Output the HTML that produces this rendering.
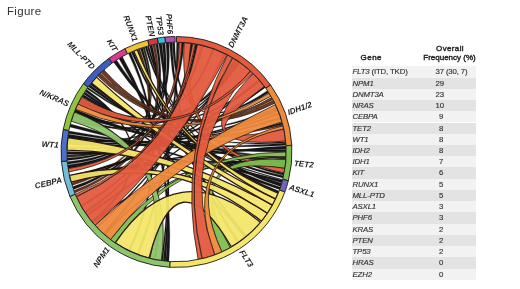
<!DOCTYPE html>
<html><head><meta charset="utf-8"><style>
html,body{margin:0;padding:0;background:#fff;width:520px;height:289px;overflow:hidden;position:relative;font-family:"Liberation Sans",sans-serif}
.fig{position:absolute;left:7px;top:3.6px;font-size:11.5px;letter-spacing:0.3px;color:#333;line-height:14px}
.row{position:absolute;left:351.5px;width:124.3px;height:11.22px;font-size:7.8px;color:#333;line-height:11.22px;letter-spacing:-0.15px;white-space:nowrap;-webkit-text-stroke:0.15px #333}
.row .g{position:absolute;left:1px}
.row .v{position:absolute;left:84px}
.h{position:absolute;font-size:8px;color:#222;text-align:center;white-space:nowrap;-webkit-text-stroke:0.4px #222}
.lb{font-family:"Liberation Sans",sans-serif;font-size:8.1px;font-weight:bold;font-style:italic;fill:#222}
#wrap{position:absolute;left:0;top:0;width:520px;height:289px;filter:blur(0.45px)}
</style></head><body><div id="wrap">
<div class="fig">Figure</div>
<svg width="520" height="289" viewBox="0 0 520 289" style="position:absolute;left:0;top:0">
<path d="M88.51 86.65 A109.60 109.60 0 0 1 89.90 84.83 Q176.50 152.00 283.50 175.72 A109.60 109.60 0 0 1 282.98 177.96 Q176.50 152.00 88.51 86.65Z" fill="#161616" stroke="#111" stroke-width="0.3"/>
<path d="M90.13 84.52 A109.60 109.60 0 0 1 91.32 83.03 Q176.50 152.00 280.25 187.32 A109.60 109.60 0 0 1 279.62 189.13 Q176.50 152.00 90.13 84.52Z" fill="#161616" stroke="#111" stroke-width="0.3"/>
<path d="M113.64 62.22 A109.60 109.60 0 0 1 116.65 60.19 Q176.50 152.00 281.53 183.31 A109.60 109.60 0 0 1 280.50 186.60 Q176.50 152.00 113.64 62.22Z" fill="#161616" stroke="#111" stroke-width="0.3"/>
<path d="M119.07 58.65 A109.60 109.60 0 0 1 122.36 56.70 Q176.50 152.00 168.85 261.33 A109.60 109.60 0 0 1 165.80 261.08 Q176.50 152.00 119.07 58.65Z" fill="#161616" stroke="#111" stroke-width="0.3"/>
<path d="M128.45 53.49 A109.60 109.60 0 0 1 130.70 52.43 Q176.50 152.00 130.18 251.33 A109.60 109.60 0 0 1 128.11 250.34 Q176.50 152.00 128.45 53.49Z" fill="#161616" stroke="#111" stroke-width="0.3"/>
<path d="M131.22 52.19 A109.60 109.60 0 0 1 133.15 51.34 Q176.50 152.00 246.95 235.96 A109.60 109.60 0 0 1 245.18 237.42 Q176.50 152.00 131.22 52.19Z" fill="#161616" stroke="#111" stroke-width="0.3"/>
<path d="M137.76 49.48 A109.60 109.60 0 0 1 139.91 48.69 Q176.50 152.00 72.15 185.50 A109.60 109.60 0 0 1 71.36 182.94 Q176.50 152.00 137.76 49.48Z" fill="#6a3018" stroke="#111" stroke-width="0.3"/>
<path d="M140.46 48.50 A109.60 109.60 0 0 1 142.45 47.82 Q176.50 152.00 67.22 160.41 A109.60 109.60 0 0 1 67.07 158.12 Q176.50 152.00 140.46 48.50Z" fill="#161616" stroke="#111" stroke-width="0.3"/>
<path d="M142.81 47.71 A109.60 109.60 0 0 1 144.64 47.13 Q176.50 152.00 67.03 157.35 A109.60 109.60 0 0 1 66.94 155.06 Q176.50 152.00 142.81 47.71Z" fill="#2e2e1c" stroke="#111" stroke-width="0.3"/>
<path d="M145.01 47.02 A109.60 109.60 0 0 1 146.84 46.49 Q176.50 152.00 278.89 191.10 A109.60 109.60 0 0 1 278.19 192.88 Q176.50 152.00 145.01 47.02Z" fill="#161616" stroke="#111" stroke-width="0.3"/>
<path d="M147.21 46.39 A109.60 109.60 0 0 1 148.87 45.94 Q176.50 152.00 284.01 173.29 A109.60 109.60 0 0 1 283.58 175.35 Q176.50 152.00 147.21 46.39Z" fill="#161616" stroke="#111" stroke-width="0.3"/>
<path d="M149.61 45.75 A109.60 109.60 0 0 1 152.22 45.12 Q176.50 152.00 165.61 261.06 A109.60 109.60 0 0 1 163.14 260.78 Q176.50 152.00 149.61 45.75Z" fill="#161616" stroke="#111" stroke-width="0.3"/>
<path d="M152.78 45.00 A109.60 109.60 0 0 1 155.21 44.49 Q176.50 152.00 74.88 193.06 A109.60 109.60 0 0 1 73.91 190.56 Q176.50 152.00 152.78 45.00Z" fill="#6a3018" stroke="#111" stroke-width="0.3"/>
<path d="M155.78 44.38 A109.60 109.60 0 0 1 158.03 43.97 Q176.50 152.00 73.51 189.49 A109.60 109.60 0 0 1 72.56 186.78 Q176.50 152.00 155.78 44.38Z" fill="#161616" stroke="#111" stroke-width="0.3"/>
<path d="M158.79 43.84 A109.60 109.60 0 0 1 161.63 43.41 Q176.50 152.00 162.76 260.74 A109.60 109.60 0 0 1 161.25 260.53 Q176.50 152.00 158.79 43.84Z" fill="#161616" stroke="#111" stroke-width="0.3"/>
<path d="M162.19 43.34 A109.60 109.60 0 0 1 165.04 43.00 Q176.50 152.00 67.58 164.22 A109.60 109.60 0 0 1 67.33 161.74 Q176.50 152.00 162.19 43.34Z" fill="#161616" stroke="#111" stroke-width="0.3"/>
<path d="M166.00 42.90 A109.60 109.60 0 0 1 168.85 42.67 Q176.50 152.00 67.97 167.25 A109.60 109.60 0 0 1 67.67 164.98 Q176.50 152.00 166.00 42.90Z" fill="#161616" stroke="#111" stroke-width="0.3"/>
<path d="M169.43 42.63 A109.60 109.60 0 0 1 172.10 42.49 Q176.50 152.00 239.36 241.78 A109.60 109.60 0 0 1 237.47 243.08 Q176.50 152.00 169.43 42.63Z" fill="#161616" stroke="#111" stroke-width="0.3"/>
<path d="M172.48 42.47 A109.60 109.60 0 0 1 174.78 42.41 Q176.50 152.00 267.36 90.71 A109.60 109.60 0 0 1 268.63 92.63 Q176.50 152.00 172.48 42.47Z" fill="#161616" stroke="#111" stroke-width="0.3"/>
<path d="M176.69 42.40 A109.60 109.60 0 0 1 178.99 42.43 Q176.50 152.00 139.01 254.99 A109.60 109.60 0 0 1 136.87 254.18 Q176.50 152.00 176.69 42.40Z" fill="#161616" stroke="#111" stroke-width="0.3"/>
<path d="M83.55 93.92 A109.60 109.60 0 0 1 84.79 91.99 Q176.50 152.00 246.21 236.57 A109.60 109.60 0 0 1 244.73 237.77 Q176.50 152.00 83.55 93.92Z" fill="#161616" stroke="#111" stroke-width="0.3"/>
<path d="M85.11 91.51 A109.60 109.60 0 0 1 86.50 89.45 Q176.50 152.00 92.54 222.45 A109.60 109.60 0 0 1 91.32 220.97 Q176.50 152.00 85.11 91.51Z" fill="#161616" stroke="#111" stroke-width="0.3"/>
<path d="M285.94 146.07 A109.60 109.60 0 0 1 286.06 148.94 Q176.50 152.00 70.63 180.37 A109.60 109.60 0 0 1 70.16 178.51 Q176.50 152.00 285.94 146.07Z" fill="#161616" stroke="#111" stroke-width="0.3"/>
<path d="M286.00 156.78 A109.60 109.60 0 0 1 285.85 159.45 Q176.50 152.00 78.85 102.24 A109.60 109.60 0 0 1 79.73 100.55 Q176.50 152.00 286.00 156.78Z" fill="#2e2e1c" stroke="#111" stroke-width="0.3"/>
<path d="M282.06 122.53 A109.60 109.60 0 0 1 282.51 124.19 Q176.50 152.00 67.17 144.35 A109.60 109.60 0 0 1 67.32 142.45 Q176.50 152.00 282.06 122.53Z" fill="#161616" stroke="#111" stroke-width="0.3"/>
<path d="M282.56 124.37 A109.60 109.60 0 0 1 282.89 125.67 Q176.50 152.00 72.56 117.22 A109.60 109.60 0 0 1 73.06 115.78 Q176.50 152.00 282.56 124.37Z" fill="#6a3018" stroke="#111" stroke-width="0.3"/>
<path d="M68.47 133.53 A109.60 109.60 0 0 1 68.91 131.09 Q176.50 152.00 285.73 143.02 A109.60 109.60 0 0 1 285.90 145.31 Q176.50 152.00 68.47 133.53Z" fill="#161616" stroke="#111" stroke-width="0.3"/>
<path d="M67.97 136.75 A109.60 109.60 0 0 1 68.34 134.29 Q176.50 152.00 286.07 149.51 A109.60 109.60 0 0 1 286.10 151.62 Q176.50 152.00 67.97 136.75Z" fill="#161616" stroke="#111" stroke-width="0.3"/>
<path d="M282.37 180.37 A109.60 109.60 0 0 1 281.69 182.76 Q176.50 152.00 66.92 154.30 A109.60 109.60 0 0 1 66.90 151.62 Q176.50 152.00 282.37 180.37Z" fill="#161616" stroke="#111" stroke-width="0.3"/>
<path d="M181.95 42.54 A109.60 109.60 0 0 1 184.05 42.66 Q176.50 152.00 68.13 168.39 A109.60 109.60 0 0 1 67.91 166.87 Q176.50 152.00 181.95 42.54Z" fill="#161616" stroke="#111" stroke-width="0.3"/>
<path d="M190.90 43.35 A109.60 109.60 0 0 1 192.79 43.62 Q176.50 152.00 85.64 213.29 A109.60 109.60 0 0 1 84.58 211.69 Q176.50 152.00 190.90 43.35Z" fill="#161616" stroke="#111" stroke-width="0.3"/>
<path d="M195.44 44.05 A109.60 109.60 0 0 1 197.51 44.43 Q176.50 152.00 81.58 206.80 A109.60 109.60 0 0 1 80.64 205.14 Q176.50 152.00 195.44 44.05Z" fill="#161616" stroke="#111" stroke-width="0.3"/>
<path d="M81.87 96.70 A109.60 109.60 0 0 1 83.15 94.57 Q176.50 152.00 282.61 179.44 A109.60 109.60 0 0 1 282.37 180.37 Q176.50 152.00 81.87 96.70Z" fill="#161616" stroke="#111" stroke-width="0.3"/>
<path d="M86.94 88.82 A109.60 109.60 0 0 1 87.94 87.42 Q176.50 152.00 285.60 141.50 A109.60 109.60 0 0 1 285.72 142.83 Q176.50 152.00 86.94 88.82Z" fill="#161616" stroke="#111" stroke-width="0.3"/>
<path d="M74.67 111.48 A109.60 109.60 0 0 1 75.46 109.53 Q176.50 152.00 286.10 151.81 A109.60 109.60 0 0 1 286.10 152.00 Q176.50 152.00 74.67 111.48Z" fill="#161616" stroke="#111" stroke-width="0.3"/>
<path d="M69.80 126.97 A109.60 109.60 0 0 1 70.54 124.00 Q176.50 152.00 280.13 187.68 A109.60 109.60 0 0 1 279.49 189.49 Q176.50 152.00 69.80 126.97Z" fill="#161616" stroke="#111" stroke-width="0.3"/>
<path d="M238.32 61.50 A109.60 109.60 0 0 1 239.89 62.59 Q176.50 152.00 70.89 181.29 A109.60 109.60 0 0 1 70.39 179.44 Q176.50 152.00 238.32 61.50Z" fill="#161616" stroke="#111" stroke-width="0.3"/>
<path d="M80.04 99.97 A109.60 109.60 0 0 1 80.96 98.29 Q176.50 152.00 212.42 48.45 A109.60 109.60 0 0 1 214.22 49.10 Q176.50 152.00 80.04 99.97Z" fill="#161616" stroke="#111" stroke-width="0.3"/>
<path d="M73.78 113.78 A109.60 109.60 0 0 1 74.46 111.99 Q176.50 152.00 201.41 45.27 A109.60 109.60 0 0 1 203.27 45.72 Q176.50 152.00 73.78 113.78Z" fill="#161616" stroke="#111" stroke-width="0.3"/>
<path d="M67.33 142.25 A109.60 109.60 0 0 1 67.52 140.34 Q176.50 152.00 278.82 112.72 A109.60 109.60 0 0 1 279.49 114.51 Q176.50 152.00 67.33 142.25Z" fill="#161616" stroke="#111" stroke-width="0.3"/>
<path d="M79.59 100.81 A109.60 109.60 0 0 1 80.50 99.12 Q176.50 152.00 237.88 61.20 A109.60 109.60 0 0 1 239.46 62.29 Q176.50 152.00 79.59 100.81Z" fill="#161616" stroke="#111" stroke-width="0.3"/>
<path d="M67.41 141.46 A109.60 109.60 0 0 1 67.61 139.56 Q176.50 152.00 238.53 61.64 A109.60 109.60 0 0 1 240.10 62.74 Q176.50 152.00 67.41 141.46Z" fill="#161616" stroke="#111" stroke-width="0.3"/>
<path d="M277.46 109.35 A109.60 109.60 0 0 1 278.19 111.12 Q176.50 152.00 66.94 148.89 A109.60 109.60 0 0 1 67.02 146.97 Q176.50 152.00 277.46 109.35Z" fill="#161616" stroke="#111" stroke-width="0.3"/>
<path d="M234.88 59.24 A109.60 109.60 0 0 1 236.49 60.28 Q176.50 152.00 97.85 228.33 A109.60 109.60 0 0 1 96.53 226.95 Q176.50 152.00 234.88 59.24Z" fill="#161616" stroke="#111" stroke-width="0.3"/>
<path d="M79.21 101.54 A109.60 109.60 0 0 1 80.10 99.85 Q176.50 152.00 285.60 162.46 A109.60 109.60 0 0 1 285.40 164.36 Q176.50 152.00 79.21 101.54Z" fill="#161616" stroke="#111" stroke-width="0.3"/>
<path d="M223.93 53.20 A109.60 109.60 0 0 1 225.65 54.04 Q176.50 152.00 104.33 234.48 A109.60 109.60 0 0 1 102.90 233.21 Q176.50 152.00 223.93 53.20Z" fill="#161616" stroke="#111" stroke-width="0.3"/>
<path d="M69.95 177.68 A109.60 109.60 0 0 1 69.52 175.81 Q176.50 152.00 258.63 79.43 A109.60 109.60 0 0 1 259.89 80.87 Q176.50 152.00 69.95 177.68Z" fill="#161616" stroke="#111" stroke-width="0.3"/>
<path d="M67.77 138.24 A109.60 109.60 0 0 1 68.02 136.35 Q176.50 152.00 280.39 117.09 A109.60 109.60 0 0 1 280.98 118.91 Q176.50 152.00 67.77 138.24Z" fill="#161616" stroke="#111" stroke-width="0.3"/>
<path d="M74.31 112.38 A109.60 109.60 0 0 1 75.02 110.61 Q176.50 152.00 285.79 160.18 A109.60 109.60 0 0 1 285.63 162.09 Q176.50 152.00 74.31 112.38Z" fill="#161616" stroke="#111" stroke-width="0.3"/>
<path d="M264.00 86.01 A109.60 109.60 0 0 1 265.14 87.54 Q176.50 152.00 87.55 216.03 A109.60 109.60 0 0 1 86.44 214.46 Q176.50 152.00 264.00 86.01Z" fill="#161616" stroke="#111" stroke-width="0.3"/>
<path d="M71.52 120.51 A109.60 109.60 0 0 1 72.09 118.68 Q176.50 152.00 235.57 59.68 A109.60 109.60 0 0 1 237.17 60.72 Q176.50 152.00 71.52 120.51Z" fill="#161616" stroke="#111" stroke-width="0.3"/>
<path d="M71.02 181.78 A109.60 109.60 0 0 1 70.52 179.94 Q176.50 152.00 285.35 164.79 A109.60 109.60 0 0 1 285.11 166.69 Q176.50 152.00 71.02 181.78Z" fill="#161616" stroke="#111" stroke-width="0.3"/>
<path d="M285.76 160.60 A109.60 109.60 0 0 1 285.60 162.51 Q176.50 152.00 105.42 235.42 A109.60 109.60 0 0 1 103.97 234.17 Q176.50 152.00 285.76 160.60Z" fill="#161616" stroke="#111" stroke-width="0.3"/>
<path d="M155.51 259.57 A109.60 109.60 0 0 1 153.64 259.19 Q176.50 152.00 74.19 112.71 A109.60 109.60 0 0 1 74.89 110.93 Q176.50 152.00 155.51 259.57Z" fill="#161616" stroke="#111" stroke-width="0.3"/>
<path d="M79.12 101.70 A109.60 109.60 0 0 1 80.02 100.01 Q176.50 152.00 258.91 79.74 A109.60 109.60 0 0 1 260.16 81.19 Q176.50 152.00 79.12 101.70Z" fill="#161616" stroke="#111" stroke-width="0.3"/>
<path d="M73.45 114.68 A109.60 109.60 0 0 1 74.12 112.88 Q176.50 152.00 276.57 107.29 A109.60 109.60 0 0 1 277.33 109.05 Q176.50 152.00 73.45 114.68Z" fill="#161616" stroke="#111" stroke-width="0.3"/>
<path d="M93.33 223.38 A109.60 109.60 0 0 1 92.10 221.92 Q176.50 152.00 285.06 167.08 A109.60 109.60 0 0 1 284.78 168.97 Q176.50 152.00 93.33 223.38Z" fill="#161616" stroke="#111" stroke-width="0.3"/>
<path d="M70.19 178.67 A109.60 109.60 0 0 1 69.75 176.81 Q176.50 152.00 285.03 167.27 A109.60 109.60 0 0 1 284.75 169.16 Q176.50 152.00 70.19 178.67Z" fill="#161616" stroke="#111" stroke-width="0.3"/>
<path d="M263.91 85.88 A109.60 109.60 0 0 1 265.05 87.41 Q176.50 152.00 69.99 177.83 A109.60 109.60 0 0 1 69.55 175.97 Q176.50 152.00 263.91 85.88Z" fill="#161616" stroke="#111" stroke-width="0.3"/>
<path d="M184.15 42.67 A109.60 109.60 0 0 1 190.81 43.34 Q176.50 152.00 284.90 168.20 A109.60 109.60 0 0 1 284.09 172.91 Q176.50 152.00 184.15 42.67Z" fill="#e35a3e" fill-opacity="0.95" stroke="#2a1a12" stroke-width="0.8"/>
<path d="M285.83 159.65 A109.60 109.60 0 0 1 284.90 168.20 Q176.50 152.00 230.14 247.58 A109.60 109.60 0 0 1 221.78 251.81 Q176.50 152.00 285.83 159.65Z" fill="#7dbf50" fill-opacity="0.95" stroke="#2a1a12" stroke-width="0.8"/>
<path d="M286.10 152.00 A109.60 109.60 0 0 1 286.00 156.59 Q176.50 152.00 115.21 242.86 A109.60 109.60 0 0 1 110.54 239.53 Q176.50 152.00 286.10 152.00Z" fill="#7dbf50" fill-opacity="0.95" stroke="#2a1a12" stroke-width="0.8"/>
<path d="M71.31 121.24 A109.60 109.60 0 0 1 74.46 112.01 Q176.50 152.00 161.25 260.53 A109.60 109.60 0 0 1 149.99 258.34 Q176.50 152.00 71.31 121.24Z" fill="#8cc56c" fill-opacity="0.95" stroke="#2a1a12" stroke-width="0.8"/>
<path d="M260.46 222.45 A109.60 109.60 0 0 1 231.30 246.92 Q176.50 152.00 149.06 258.11 A109.60 109.60 0 0 1 115.21 242.86 Q176.50 152.00 260.46 222.45Z" fill="#f3e66a" fill-opacity="0.95" stroke="#2a1a12" stroke-width="1.3"/>
<path d="M267.36 213.29 A109.60 109.60 0 0 1 261.43 221.27 Q176.50 152.00 71.15 182.21 A109.60 109.60 0 0 1 69.42 175.35 Q176.50 152.00 267.36 213.29Z" fill="#f3e66a" fill-opacity="0.95" stroke="#2a1a12" stroke-width="1.3"/>
<path d="M272.36 205.14 A109.60 109.60 0 0 1 267.36 213.29 Q176.50 152.00 66.92 150.09 A109.60 109.60 0 0 1 67.84 137.69 Q176.50 152.00 272.36 205.14Z" fill="#f3e66a" fill-opacity="0.95" stroke="#2a1a12" stroke-width="1.3"/>
<path d="M275.59 198.84 A109.60 109.60 0 0 1 272.36 205.14 Q176.50 152.00 91.45 82.88 A109.60 109.60 0 0 1 96.47 77.11 Q176.50 152.00 275.59 198.84Z" fill="#f3e66a" fill-opacity="0.95" stroke="#2a1a12" stroke-width="1.3"/>
<path d="M278.12 193.06 A109.60 109.60 0 0 1 275.59 198.84 Q176.50 152.00 133.68 51.11 A109.60 109.60 0 0 1 137.22 49.68 Q176.50 152.00 278.12 193.06Z" fill="#f3e66a" fill-opacity="0.95" stroke="#2a1a12" stroke-width="1.3"/>
<path d="M271.61 97.53 A109.60 109.60 0 0 1 272.73 99.54 Q176.50 152.00 97.66 75.87 A109.60 109.60 0 0 1 100.37 73.16 Q176.50 152.00 271.61 97.53Z" fill="#6a3018" fill-opacity="0.95" stroke="#2a1a12" stroke-width="0.8"/>
<path d="M273.27 100.55 A109.60 109.60 0 0 1 274.67 103.27 Q176.50 152.00 101.06 72.50 A109.60 109.60 0 0 1 103.88 69.91 Q176.50 152.00 273.27 100.55Z" fill="#6a3018" fill-opacity="0.95" stroke="#2a1a12" stroke-width="0.8"/>
<path d="M253.18 73.69 A109.60 109.60 0 0 1 264.37 86.50 Q176.50 152.00 283.70 129.21 A109.60 109.60 0 0 1 285.54 140.92 Q176.50 152.00 253.18 73.69Z" fill="#e35a3e" fill-opacity="0.95" stroke="#2a1a12" stroke-width="0.8"/>
<path d="M275.34 104.64 A109.60 109.60 0 0 1 281.85 121.79 Q176.50 152.00 110.54 239.53 A109.60 109.60 0 0 1 95.05 225.34 Q176.50 152.00 275.34 104.64Z" fill="#ee8a3c" fill-opacity="0.95" stroke="#2a1a12" stroke-width="0.8"/>
<path d="M282.94 125.86 A109.60 109.60 0 0 1 283.62 128.84 Q176.50 152.00 221.78 251.81 A109.60 109.60 0 0 1 214.70 254.73 Q176.50 152.00 282.94 125.86Z" fill="#ee8a3c" fill-opacity="0.95" stroke="#2a1a12" stroke-width="0.8"/>
<path d="M269.04 93.27 A109.60 109.60 0 0 1 270.84 96.21 Q176.50 152.00 75.61 109.18 A109.60 109.60 0 0 1 77.99 103.95 Q176.50 152.00 269.04 93.27Z" fill="#ee8a3c" fill-opacity="0.95" stroke="#2a1a12" stroke-width="0.8"/>
<path d="M179.37 42.44 A109.60 109.60 0 0 1 181.85 42.53 Q176.50 152.00 68.74 171.97 A109.60 109.60 0 0 1 68.16 168.58 Q176.50 152.00 179.37 42.44Z" fill="#e35a3e" fill-opacity="0.95" stroke="#2a1a12" stroke-width="0.8"/>
<path d="M192.89 43.63 A109.60 109.60 0 0 1 195.34 44.03 Q176.50 152.00 76.38 196.58 A109.60 109.60 0 0 1 75.39 194.30 Q176.50 152.00 192.89 43.63Z" fill="#e35a3e" fill-opacity="0.95" stroke="#2a1a12" stroke-width="0.8"/>
<path d="M197.60 44.45 A109.60 109.60 0 0 1 227.11 54.78 Q176.50 152.00 95.05 225.34 A109.60 109.60 0 0 1 76.53 196.93 Q176.50 152.00 197.60 44.45Z" fill="#e35a3e" fill-opacity="0.95" stroke="#2a1a12" stroke-width="0.8"/>
<path d="M227.62 55.05 A109.60 109.60 0 0 1 232.29 57.66 Q176.50 152.00 201.90 258.62 A109.60 109.60 0 0 1 198.16 259.44 Q176.50 152.00 227.62 55.05Z" fill="#e35a3e" fill-opacity="0.95" stroke="#2a1a12" stroke-width="0.8"/>
<path d="M232.78 57.96 A109.60 109.60 0 0 1 250.12 70.81 Q176.50 152.00 214.70 254.73 A109.60 109.60 0 0 1 202.27 258.53 Q176.50 152.00 232.78 57.96Z" fill="#e35a3e" fill-opacity="0.95" stroke="#2a1a12" stroke-width="0.8"/>
<path d="M250.69 71.32 A109.60 109.60 0 0 1 252.63 73.16 Q176.50 152.00 77.99 103.95 A109.60 109.60 0 0 1 81.58 97.20 Q176.50 152.00 250.69 71.32Z" fill="#e35a3e" fill-opacity="0.95" stroke="#2a1a12" stroke-width="0.8"/>
<path d="M176.50 36.50 A115.50 115.50 0 0 1 270.53 84.93 L265.89 88.24 A109.80 109.80 0 0 0 176.50 42.20Z" fill="#e35a3e" stroke="#1a1a1a" stroke-width="0.9"/>
<path d="M270.53 84.93 A115.50 115.50 0 0 1 291.81 145.35 L286.12 145.68 A109.80 109.80 0 0 0 265.89 88.24Z" fill="#ee8a3c" stroke="#1a1a1a" stroke-width="0.9"/>
<path d="M291.81 145.35 A115.50 115.50 0 0 1 288.37 180.72 L282.85 179.31 A109.80 109.80 0 0 0 286.12 145.68Z" fill="#7dbf50" stroke="#1a1a1a" stroke-width="0.9"/>
<path d="M288.37 180.72 A115.50 115.50 0 0 1 284.83 192.07 L279.48 190.09 A109.80 109.80 0 0 0 282.85 179.31Z" fill="#7464bc" stroke="#1a1a1a" stroke-width="0.9"/>
<path d="M284.83 192.07 A115.50 115.50 0 0 1 169.65 267.30 L169.99 261.61 A109.80 109.80 0 0 0 279.48 190.09Z" fill="#f3e66a" stroke="#1a1a1a" stroke-width="0.9"/>
<path d="M169.65 267.30 A115.50 115.50 0 0 1 69.87 196.39 L75.13 194.20 A109.80 109.80 0 0 0 169.99 261.61Z" fill="#8cc56c" stroke="#1a1a1a" stroke-width="0.9"/>
<path d="M69.87 196.39 A115.50 115.50 0 0 1 61.39 161.46 L67.07 161.00 A109.80 109.80 0 0 0 75.13 194.20Z" fill="#74bcd8" stroke="#1a1a1a" stroke-width="0.9"/>
<path d="M61.39 161.46 A115.50 115.50 0 0 1 63.24 129.37 L68.83 130.49 A109.80 109.80 0 0 0 67.07 161.00Z" fill="#4a70c8" stroke="#1a1a1a" stroke-width="0.9"/>
<path d="M63.24 129.37 A115.50 115.50 0 0 1 83.42 83.62 L88.01 87.00 A109.80 109.80 0 0 0 68.83 130.49Z" fill="#90c440" stroke="#1a1a1a" stroke-width="0.9"/>
<path d="M83.42 83.62 A115.50 115.50 0 0 1 108.94 58.32 L112.27 62.95 A109.80 109.80 0 0 0 88.01 87.00Z" fill="#3c5cc0" stroke="#1a1a1a" stroke-width="0.9"/>
<path d="M108.94 58.32 A115.50 115.50 0 0 1 124.96 48.64 L127.51 53.74 A109.80 109.80 0 0 0 112.27 62.95Z" fill="#d83c8c" stroke="#1a1a1a" stroke-width="0.9"/>
<path d="M124.96 48.64 A115.50 115.50 0 0 1 147.78 40.13 L149.19 45.65 A109.80 109.80 0 0 0 127.51 53.74Z" fill="#f0c434" stroke="#1a1a1a" stroke-width="0.9"/>
<path d="M147.78 40.13 A115.50 115.50 0 0 1 157.44 38.08 L158.38 43.71 A109.80 109.80 0 0 0 149.19 45.65Z" fill="#d4383c" stroke="#1a1a1a" stroke-width="0.9"/>
<path d="M157.44 38.08 A115.50 115.50 0 0 1 165.03 37.07 L165.59 42.74 A109.80 109.80 0 0 0 158.38 43.71Z" fill="#40bcdc" stroke="#1a1a1a" stroke-width="0.9"/>
<path d="M165.03 37.07 A115.50 115.50 0 0 1 175.09 36.51 L175.16 42.21 A109.80 109.80 0 0 0 165.59 42.74Z" fill="#b450b4" stroke="#1a1a1a" stroke-width="0.9"/>
<text x="230.53" y="47.10" transform="rotate(-62.75 230.53 47.10)" text-anchor="start" dominant-baseline="central" class="lb">DNMT3A</text>
<text x="287.80" y="112.80" transform="rotate(-19.40 287.80 112.80)" text-anchor="start" dominant-baseline="central" class="lb">IDH1/2</text>
<text x="293.95" y="163.41" transform="rotate(5.55 293.95 163.41)" text-anchor="start" dominant-baseline="central" class="lb">TET2</text>
<text x="289.13" y="187.19" transform="rotate(17.35 289.13 187.19)" text-anchor="start" dominant-baseline="central" class="lb">ASXL1</text>
<text x="241.03" y="250.79" transform="rotate(56.85 241.03 250.79)" text-anchor="start" dominant-baseline="central" class="lb">FLT3</text>
<text x="108.14" y="248.19" transform="rotate(305.40 108.14 248.19)" text-anchor="end" dominant-baseline="central" class="lb">NPM1</text>
<text x="61.83" y="179.85" transform="rotate(346.35 61.83 179.85)" text-anchor="end" dominant-baseline="central" class="lb">CEBPA</text>
<text x="58.70" y="145.21" transform="rotate(363.30 58.70 145.21)" text-anchor="end" dominant-baseline="central" class="lb">WT1</text>
<text x="68.53" y="104.38" transform="rotate(383.80 68.53 104.38)" text-anchor="end" dominant-baseline="central" class="lb">N/KRAS</text>
<text x="93.43" y="68.20" transform="rotate(405.25 93.43 68.20)" text-anchor="end" dominant-baseline="central" class="lb">MLL-PTD</text>
<text x="115.46" y="51.01" transform="rotate(418.85 115.46 51.01)" text-anchor="end" dominant-baseline="central" class="lb">KIT</text>
<text x="135.27" y="41.44" transform="rotate(429.55 135.27 41.44)" text-anchor="end" dominant-baseline="central" class="lb">RUNX1</text>
<text x="152.07" y="36.56" transform="rotate(438.05 152.07 36.56)" text-anchor="end" dominant-baseline="central" class="lb">PTEN</text>
<text x="160.89" y="35.04" transform="rotate(442.40 160.89 35.04)" text-anchor="end" dominant-baseline="central" class="lb">TP53</text>
<text x="169.91" y="34.18" transform="rotate(446.80 169.91 34.18)" text-anchor="end" dominant-baseline="central" class="lb">PHF6</text>
</svg>
<div class="h" style="left:360.6px;top:53px;letter-spacing:0.45px">Gene</div>
<div class="h" style="left:420px;top:44px;width:60px;letter-spacing:0.35px">Overall</div>
<div class="h" style="left:419.5px;top:53px;width:60px">Frequency (%)</div>
<div class="row" style="top:66.30px;background:#f2f2f2"><span class="g"><i>FLT3</i> (ITD, TKD)</span><span class="v" style="left:84px">37 (30, 7)</span></div><div class="row" style="top:77.54px;background:#e3e3e3"><span class="g"><i>NPM1</i></span><span class="v" style="left:84px">29</span></div><div class="row" style="top:88.78px;background:#f2f2f2"><span class="g"><i>DNMT3A</i></span><span class="v" style="left:84px">23</span></div><div class="row" style="top:100.02px;background:#e3e3e3"><span class="g"><i>NRAS</i></span><span class="v" style="left:84px">10</span></div><div class="row" style="top:111.26px;background:#f2f2f2"><span class="g"><i>CEBPA</i></span><span class="v" style="left:87.6px">9</span></div><div class="row" style="top:122.50px;background:#e3e3e3"><span class="g"><i>TET2</i></span><span class="v" style="left:87.6px">8</span></div><div class="row" style="top:133.74px;background:#f2f2f2"><span class="g"><i>WT1</i></span><span class="v" style="left:87.6px">8</span></div><div class="row" style="top:144.98px;background:#e3e3e3"><span class="g"><i>IDH2</i></span><span class="v" style="left:87.6px">8</span></div><div class="row" style="top:156.22px;background:#f2f2f2"><span class="g"><i>IDH1</i></span><span class="v" style="left:87.6px">7</span></div><div class="row" style="top:167.46px;background:#e3e3e3"><span class="g"><i>KIT</i></span><span class="v" style="left:87.6px">6</span></div><div class="row" style="top:178.70px;background:#f2f2f2"><span class="g"><i>RUNX1</i></span><span class="v" style="left:87.6px">5</span></div><div class="row" style="top:189.94px;background:#e3e3e3"><span class="g"><i>MLL-PTD</i></span><span class="v" style="left:87.6px">5</span></div><div class="row" style="top:201.18px;background:#f2f2f2"><span class="g"><i>ASXL1</i></span><span class="v" style="left:87.6px">3</span></div><div class="row" style="top:212.42px;background:#e3e3e3"><span class="g"><i>PHF6</i></span><span class="v" style="left:87.6px">3</span></div><div class="row" style="top:223.66px;background:#f2f2f2"><span class="g"><i>KRAS</i></span><span class="v" style="left:87.6px">2</span></div><div class="row" style="top:234.90px;background:#e3e3e3"><span class="g"><i>PTEN</i></span><span class="v" style="left:87.6px">2</span></div><div class="row" style="top:246.14px;background:#f2f2f2"><span class="g"><i>TP53</i></span><span class="v" style="left:87.6px">2</span></div><div class="row" style="top:257.38px;background:#e3e3e3"><span class="g"><i>HRAS</i></span><span class="v" style="left:87.6px">0</span></div><div class="row" style="top:268.62px;background:#f2f2f2"><span class="g"><i>EZH2</i></span><span class="v" style="left:87.6px">0</span></div>
</div></body></html>
